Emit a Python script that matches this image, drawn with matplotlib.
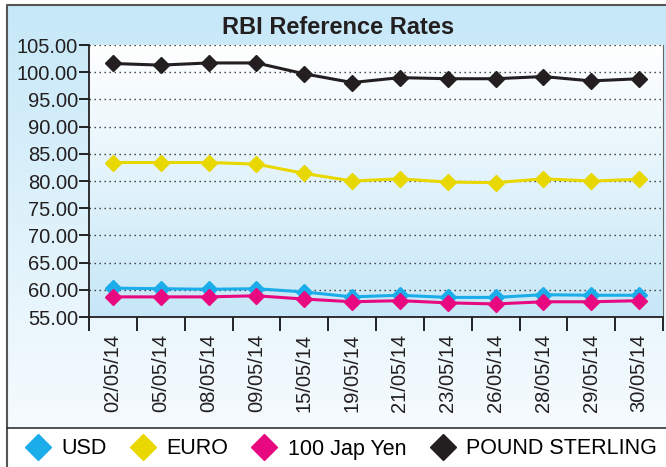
import numpy as np
import matplotlib
matplotlib.use("Agg")
import matplotlib.pyplot as plt
from matplotlib.colors import LinearSegmentedColormap
from matplotlib.patches import Rectangle

dates = ["02/05/14", "05/05/14", "08/05/14", "09/05/14", "15/05/14", "19/05/14",
         "21/05/14", "23/05/14", "26/05/14", "28/05/14", "29/05/14", "30/05/14"]
usd = [60.3, 60.2, 60.1, 60.2, 59.6, 58.7, 59.0, 58.6, 58.6, 59.1, 59.0, 59.0]
euro = [83.4, 83.4, 83.4, 83.1, 81.4, 80.0, 80.4, 79.8, 79.7, 80.4, 80.0, 80.3]
yen = [58.7, 58.7, 58.7, 58.9, 58.3, 57.8, 58.0, 57.6, 57.4, 57.8, 57.8, 58.0]
pound = [101.6, 101.3, 101.7, 101.7, 99.7, 98.1, 99.0, 98.8, 98.8, 99.2, 98.4, 98.8]

series = [
    ("USD", usd, "#1badea"),
    ("EURO", euro, "#e9d700"),
    ("100 Jap Yen", yen, "#e8087f"),
    ("POUND STERLING", pound, "#231f20"),
]

plt.rcParams["font.family"] = ["Liberation Sans", "DejaVu Sans"]

W, H = 666, 467
fig = plt.figure(figsize=(W / 100, H / 100), dpi=100)

# background panel with gradient
bg = fig.add_axes([0, 0, 1, 1])
bg.set_xlim(0, W)
bg.set_ylim(H, 0)
bg.axis("off")
panel_cmap = LinearSegmentedColormap.from_list("panel", ["#c6e8f8", "#f6fbfe"])
grad = np.linspace(0, 1, 256).reshape(-1, 1)
bg.imshow(grad, cmap=panel_cmap, extent=[7, W, 428, 5], aspect="auto", zorder=0)
bg.add_patch(Rectangle((7, 428), W - 7, H - 428, facecolor="white", edgecolor="none", zorder=1))
bg.plot([7, 7, W], [H, 5, 5], color="#555555", lw=1.5, zorder=2)
bg.plot([7, W], [428, 428], color="#333333", lw=1.2, zorder=2)

# plot area
ax = fig.add_axes([89 / W, 1 - 317 / H, (663 - 89) / W, (317 - 45) / H])
ax.set_facecolor("none")
area_cmap = LinearSegmentedColormap.from_list("area", ["#ffffff", "#c6e7f7"])
ax.imshow(grad, cmap=area_cmap, extent=[-0.5, 11.5, 55, 105], aspect="auto", zorder=0)

x = np.arange(len(dates))
for name, vals, col in series:
    ax.plot(x, vals, color=col, lw=2.2, marker="D", markersize=8.5, label=name, zorder=3)

ax.set_xlim(-0.5, 11.5)
ax.set_ylim(55, 105)
yt = np.arange(55, 105.1, 5)
ax.set_yticks(yt)
ax.set_yticklabels([f"{v:.2f}" for v in yt], fontsize=14.5, color="#231f20")
ax.tick_params(axis="y", direction="out", length=7, width=1.2, pad=1)
for v in yt[1:]:
    ax.axhline(v, color="#333333", lw=1.0, ls=(0, (1, 2.6)), zorder=1)

ax.set_xticks(x)
ax.set_xticklabels(dates, rotation=90, fontsize=14.5, color="#231f20")
ax.tick_params(axis="x", which="major", length=0, pad=12)
ax.set_xticks(np.arange(-0.5, 12, 1), minor=True)
ax.tick_params(axis="x", which="minor", direction="out", length=10, width=1.2)

ax.spines["left"].set_color("#231f20")
ax.spines["left"].set_linewidth(1.3)
ax.spines["bottom"].set_color("#231f20")
ax.spines["bottom"].set_linewidth(1.3)
ax.spines["right"].set_color("#666666")
ax.spines["top"].set_visible(False)

fig.text(338 / W, 1 - 27 / H, "RBI Reference Rates", ha="center", va="center",
         fontsize=17, fontweight="bold", color="#231f20")

handles = [plt.Line2D([], [], color=c, marker="D", ls="none", markersize=13) for _, _, c in series]
fig.legend(handles, [s[0] for s in series], loc="center", bbox_to_anchor=(341 / W, 1 - 449 / H),
           ncol=4, frameon=False, fontsize=15.5, handletextpad=0.5, columnspacing=1.07,
           handlelength=1.2)

fig.savefig("out.png", dpi=100)
